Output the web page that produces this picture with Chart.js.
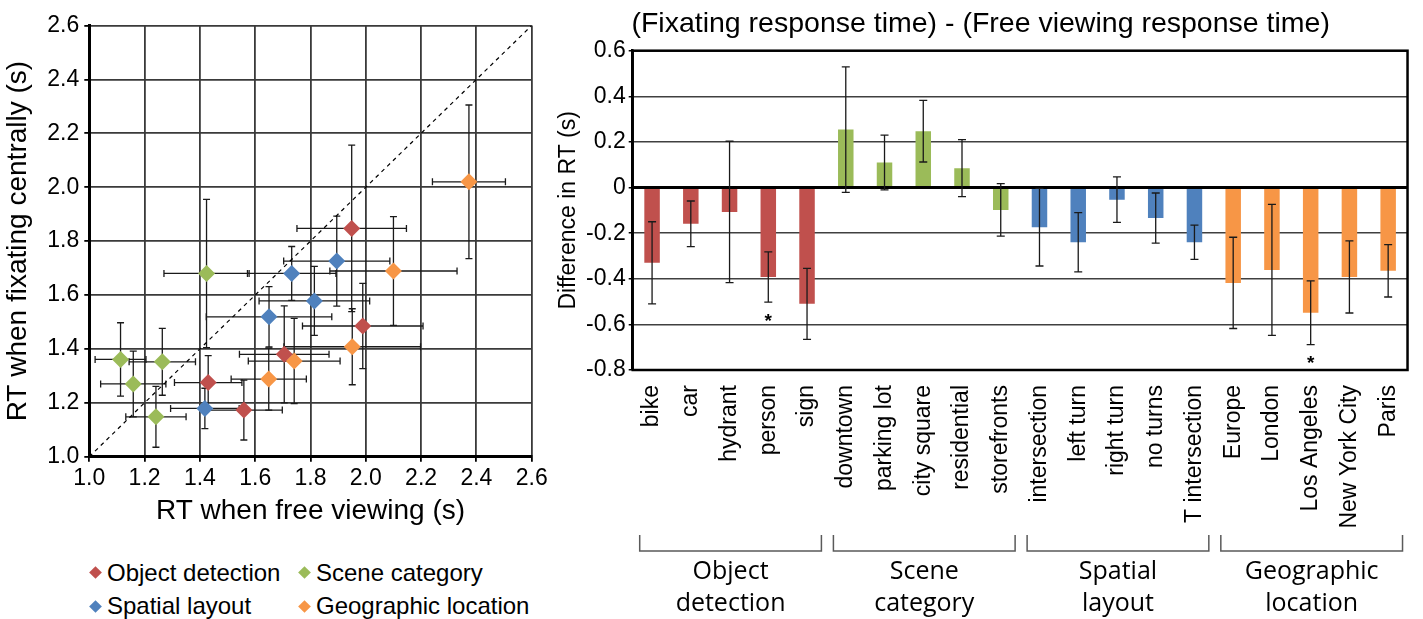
<!DOCTYPE html>
<html>
<head>
<meta charset="utf-8">
<script src="https://cdn.jsdelivr.net/npm/chart.js@4.4.1/dist/chart.umd.min.js"></script>
<style>
  html, body { margin:0; padding:0; background:#fff; width:1423px; height:619px; overflow:hidden; }
  #leftWrap { position:absolute; left:0; top:0; width:560px; height:540px; }
  #rightWrap { position:absolute; left:548px; top:0; width:875px; height:619px; }
  .lg { position:absolute; height:28px; display:flex; align-items:center;
        font-family:'Liberation Sans', Arial, sans-serif; font-size:24px; line-height:1; color:#000; white-space:nowrap; }
  .lg .dia { display:inline-block; width:9px; height:9px; transform:rotate(45deg); margin-right:7.5px; }
</style>
</head>
<body>
<div id="leftWrap"><canvas id="scatter"></canvas></div>
<div id="rightWrap"><canvas id="bars"></canvas></div>
<div id="legend"></div>
<script>
// ---------------- DATA ----------------
// Scatter: RT when free viewing (x) vs RT when fixating centrally (y), with +/- errors
const groupNames = ['Object detection', 'Scene category', 'Spatial layout', 'Geographic location'];

const objFreeRT  = [1.949, 1.989, 1.705, 1.430, 1.559];
const objFixRT   = [1.847, 1.485, 1.380, 1.275, 1.173];
const objFreeErr = [0.198, 0.218, 0.162, 0.122, 0.139];
const objFixErr  = [0.309, 0.158, 0.180, 0.100, 0.111];

const sceFreeRT  = [1.424, 1.113, 1.264, 1.159, 1.241];
const sceFixRT   = [1.680, 1.361, 1.352, 1.270, 1.148];
const sceFreeErr = [0.154, 0.092, 0.120, 0.118, 0.109];
const sceFixErr  = [0.275, 0.136, 0.124, 0.122, 0.113];

const spaFreeRT  = [1.895, 1.732, 1.814, 1.650, 1.418];
const spaFixRT   = [1.726, 1.680, 1.578, 1.519, 1.179];
const spaFreeErr = [0.192, 0.160, 0.200, 0.227, 0.124];
const spaFixErr  = [0.167, 0.100, 0.128, 0.112, 0.075];

const geoFreeRT  = [2.373, 2.100, 1.951, 1.741, 1.649];
const geoFixRT   = [2.020, 1.689, 1.408, 1.355, 1.288];
const geoFreeErr = [0.132, 0.230, 0.247, 0.166, 0.136];
const geoFixErr  = [0.285, 0.202, 0.141, 0.158, 0.115];

const diagonal = [1.0, 2.6];           // y = x reference line end points
const scatterTicks = [1.0, 1.2, 1.4, 1.6, 1.8, 2.0, 2.2, 2.4, 2.6];

// Bar chart: (fixating RT) - (free viewing RT)
const categories = ['bike','car','hydrant','person','sign',
  'downtown','parking lot','city square','residential','storefronts',
  'intersection','left turn','right turn','no turns','T intersection',
  'Europe','London','Los Angeles','New York City','Paris'];
const diffRT  = [-0.330,-0.159,-0.107,-0.392,-0.510,
                  0.254, 0.110, 0.247, 0.085,-0.098,
                 -0.174,-0.240,-0.053,-0.134,-0.240,
                 -0.418,-0.361,-0.549,-0.392,-0.365];
const diffErr = [0.180, 0.100, 0.310, 0.110, 0.156,
                 0.275, 0.120, 0.135, 0.125, 0.115,
                 0.170, 0.130, 0.100, 0.110, 0.075,
                 0.200, 0.287, 0.140, 0.158, 0.115];
const significant = ['person', 'Los Angeles'];
const groupLabels = [['Object','detection'], ['Scene','category'], ['Spatial','layout'], ['Geographic','location']];
const groupSizes = [5, 5, 5, 5];
const barTicks = [0.6, 0.4, 0.2, 0, -0.2, -0.4, -0.6, -0.8];

// ---------------- STYLE ----------------
const COLORS = ['#C0504D', '#9BBB59', '#4F81BD', '#F79646'];
const FONT = "'Liberation Sans', Arial, Helvetica, sans-serif";
Chart.defaults.font.family = FONT;
Chart.defaults.color = '#000';

// ---------------- LEGEND (HTML) ----------------
(function(){
  const pos = [[90.5,558.5],[299.5,558.5],[90.5,592],[299.5,592]];
  const lg = document.getElementById('legend');
  groupNames.forEach((name,g)=>{
    const d = document.createElement('div');
    d.className = 'lg';
    d.style.left = pos[g][0] + 'px';
    d.style.top = pos[g][1] + 'px';
    d.innerHTML = '<span class="dia" style="background:' + COLORS[g] + '"></span><span>' + name + '</span>';
    lg.appendChild(d);
  });
})();

// ---------------- SCATTER ----------------
function pts(xs, ys){ return xs.map((x,i)=>({x:x, y:ys[i]})); }

const scatterErrorBars = {
  id:'scatterErrorBars',
  beforeDatasetsDraw(chart){
    const {ctx, scales:{x, y}} = chart;
    ctx.save();
    ctx.strokeStyle = '#1a1a1a';
    ctx.lineWidth = 1.3;
    const c = 3.5;
    chart.data.datasets.forEach(ds=>{
      if (!ds.xErr) return;
      ds.data.forEach((p,i)=>{
        const cx = x.getPixelForValue(p.x), cy = y.getPixelForValue(p.y);
        const x0 = x.getPixelForValue(p.x - ds.xErr[i]), x1 = x.getPixelForValue(p.x + ds.xErr[i]);
        const y0 = y.getPixelForValue(p.y - ds.yErr[i]), y1 = y.getPixelForValue(p.y + ds.yErr[i]);
        ctx.beginPath();
        ctx.moveTo(x0, cy); ctx.lineTo(x1, cy);
        ctx.moveTo(x0, cy - c); ctx.lineTo(x0, cy + c);
        ctx.moveTo(x1, cy - c); ctx.lineTo(x1, cy + c);
        ctx.moveTo(cx, y0); ctx.lineTo(cx, y1);
        ctx.moveTo(cx - c, y0); ctx.lineTo(cx + c, y0);
        ctx.moveTo(cx - c, y1); ctx.lineTo(cx + c, y1);
        ctx.stroke();
      });
    });
    ctx.restore();
  }
};

function scatterSet(label, xs, ys, xe, ye, color){
  return { type:'scatter', label:label, data:pts(xs, ys), xErr:xe, yErr:ye,
    backgroundColor:color, borderColor:color, borderWidth:0,
    pointStyle:'rectRot', pointRadius:8.5, pointHoverRadius:8.5, order:1 };
}

new Chart(document.getElementById('scatter'), {
  type:'scatter',
  data:{ datasets:[
    { type:'line', label:'y=x', data:pts(diagonal, diagonal), borderColor:'#000', borderWidth:1.2,
      borderDash:[4,4], pointRadius:0, fill:false, order:2 },
    scatterSet(groupNames[0], objFreeRT, objFixRT, objFreeErr, objFixErr, COLORS[0]),
    scatterSet(groupNames[1], sceFreeRT, sceFixRT, sceFreeErr, sceFixErr, COLORS[1]),
    scatterSet(groupNames[2], spaFreeRT, spaFixRT, spaFreeErr, spaFixErr, COLORS[2]),
    scatterSet(groupNames[3], geoFreeRT, geoFixRT, geoFreeErr, geoFixErr, COLORS[3])
  ]},
  options:{
    responsive:true, maintainAspectRatio:false, animation:false,
    layout:{ padding:{ left:0, right:28.3, top:25.5, bottom:0 } },
    plugins:{ legend:{display:false}, tooltip:{enabled:false} },
    scales:{
      x:{ type:'linear', min:scatterTicks[0], max:scatterTicks[scatterTicks.length-1],
        afterBuildTicks(s){ s.ticks = scatterTicks.map(v=>({value:v})); },
        ticks:{ callback:v=>Number(v).toFixed(1), font:{size:23}, color:'#000', padding:3, maxRotation:0 },
        grid:{ color:'#3a3a3a', lineWidth:1.8, tickLength:5, tickColor:'#000' },
        border:{ color:'#000', width:3 },
        title:{ display:true, text:'RT when free viewing (s)', font:{size:28}, color:'#000', padding:{top:0, bottom:12} },
        afterFit(s){ s.height = 83.3; }
      },
      y:{ type:'linear', min:scatterTicks[0], max:scatterTicks[scatterTicks.length-1],
        afterBuildTicks(s){ s.ticks = scatterTicks.map(v=>({value:v})); },
        ticks:{ callback:v=>Number(v).toFixed(1), font:{size:23}, color:'#000', padding:5 },
        grid:{ color:'#3a3a3a', lineWidth:1.8, tickLength:5, tickColor:'#000' },
        border:{ color:'#000', width:3 },
        title:{ display:true, text:'RT when fixating centrally (s)', font:{size:28}, color:'#000', padding:{top:1, bottom:0} },
        afterFit(s){ s.width = 89.3; }
      }
    }
  },
  plugins:[scatterErrorBars]
});

// ---------------- BARS ----------------
const barColors = [];
groupSizes.forEach((n,g)=>{ for (let i=0;i<n;i++) barColors.push(COLORS[g]); });

const barExtras = {
  id:'barExtras',
  afterDatasetsDraw(chart){
    const {ctx, chartArea:a, scales:{x, y}} = chart;
    const meta = chart.getDatasetMeta(0);
    ctx.save();
    // zero line on top of bars
    const y0 = y.getPixelForValue(0);
    ctx.strokeStyle = '#000'; ctx.lineWidth = 3;
    ctx.beginPath(); ctx.moveTo(a.left, y0); ctx.lineTo(a.right, y0); ctx.stroke();
    // error bars
    ctx.strokeStyle = '#1a1a1a'; ctx.lineWidth = 1.3;
    const c = 4;
    meta.data.forEach((bar,i)=>{
      const cx = bar.x;
      const yt = y.getPixelForValue(diffRT[i] + diffErr[i]);
      const yb = y.getPixelForValue(diffRT[i] - diffErr[i]);
      ctx.beginPath();
      ctx.moveTo(cx, yt); ctx.lineTo(cx, yb);
      ctx.moveTo(cx - c, yt); ctx.lineTo(cx + c, yt);
      ctx.moveTo(cx - c, yb); ctx.lineTo(cx + c, yb);
      ctx.stroke();
      if (significant.includes(categories[i])) {
        ctx.fillStyle = '#000';
        ctx.font = 'bold 19px ' + FONT;
        ctx.textAlign = 'center'; ctx.textBaseline = 'alphabetic';
        ctx.fillText('*', cx, yb + 13.5 + 11);
      }
    });
    // outer box
    ctx.strokeStyle = '#000'; ctx.lineWidth = 2.5;
    ctx.strokeRect(a.left, a.top, a.right - a.left, a.bottom - a.top);
    ctx.restore();
  },
  afterDraw(chart){
    const {ctx, scales:{x}} = chart;
    const catW = x.getPixelForValue(1) - x.getPixelForValue(0);
    ctx.save();
    ctx.strokeStyle = '#5a5a5a'; ctx.lineWidth = 1.5;
    ctx.fillStyle = '#000';
    ctx.font = "25px 'Open Sans', 'Liberation Sans', sans-serif";
    ctx.textAlign = 'center'; ctx.textBaseline = 'middle';
    let start = 0;
    groupSizes.forEach((n,g)=>{
      const l = x.getPixelForValue(start) - catW/2 + 7;
      const r = x.getPixelForValue(start + n - 1) + catW/2 - 5;
      ctx.beginPath();
      ctx.moveTo(l, 535); ctx.lineTo(l, 551); ctx.lineTo(r, 551); ctx.lineTo(r, 535);
      ctx.stroke();
      const mid = (l + r) / 2;
      ctx.fillText(groupLabels[g][0], mid, 571.5);
      ctx.fillText(groupLabels[g][1], mid, 604);
      start += n;
    });
    ctx.restore();
  }
};

new Chart(document.getElementById('bars'), {
  type:'bar',
  data:{ labels:categories, datasets:[{ data:diffRT, backgroundColor:barColors, borderWidth:0,
    barPercentage:0.4, categoryPercentage:1.0 }] },
  options:{
    responsive:true, maintainAspectRatio:false, animation:false,
    layout:{ padding:{ left:0, right:9.7, top:0, bottom:0 } },
    plugins:{
      legend:{display:false}, tooltip:{enabled:false},
      title:{ display:true, text:'(Fixating response time) - (Free viewing response time)',
        font:{size:28.5, weight:'normal'}, color:'#000', padding:{top:7.4, bottom:9.1} }
    },
    scales:{
      x:{ grid:{display:false}, border:{display:false},
        ticks:{ minRotation:90, maxRotation:90, autoSkip:false, padding:7, font:{size:23}, color:'#000' },
        afterFit(s){ s.height = 249; }
      },
      y:{ min:barTicks[barTicks.length-1], max:barTicks[0],
        afterBuildTicks(s){ s.ticks = barTicks.slice().reverse().map(v=>({value:v})); },
        ticks:{ callback:v=> Math.abs(v) < 1e-9 ? '0' : Number(v).toFixed(1), font:{size:23}, color:'#000', padding:3 },
        grid:{ color:'#404040', lineWidth:1.5, tickLength:4, tickColor:'#000' },
        border:{ color:'#000', width:2.5 },
        title:{ display:true, text:'Difference in RT (s)', font:{size:23}, color:'#000', padding:{top:7, bottom:0} },
        afterFit(s){ s.width = 84.7; }
      }
    }
  },
  plugins:[barExtras]
});
</script>
</body>
</html>
